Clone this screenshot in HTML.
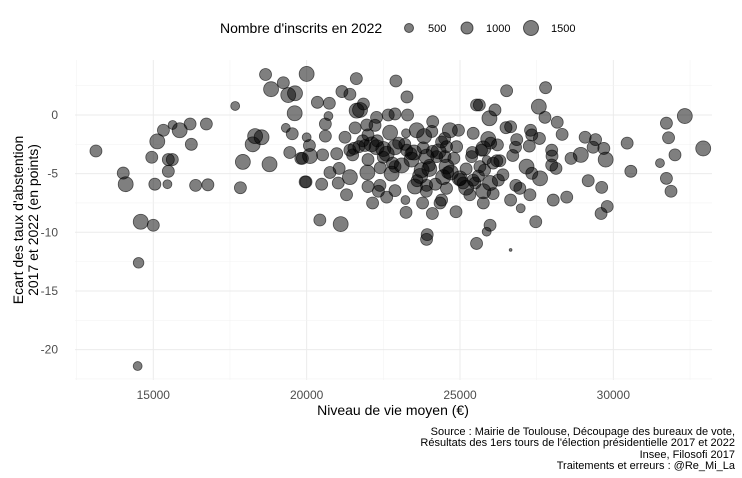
<!DOCTYPE html>
<html><head><meta charset="utf-8"><style>
body{margin:0;background:#fff;font-family:"Liberation Sans",sans-serif}
svg{display:block}
</style></head><body>
<svg id="chart" width="742" height="478" viewBox="0 0 742 478" xmlns="http://www.w3.org/2000/svg" font-family="Liberation Sans, sans-serif">
<g id="grid"></g>
<g id="pts"></g>
<g id="axes"></g>
<g>
<text x="220" y="33" font-size="14" fill="#000">Nombre d'inscrits en 2022</text>
<circle cx="409" cy="28" r="4.5" fill="rgba(0,0,0,0.5)" stroke="rgba(0,0,0,0.6)"/>
<text x="428" y="32" font-size="11">500</text>
<circle cx="467" cy="28" r="6" fill="rgba(0,0,0,0.5)" stroke="rgba(0,0,0,0.6)"/>
<text x="486" y="32" font-size="11">1000</text>
<circle cx="531" cy="28" r="7.5" fill="rgba(0,0,0,0.5)" stroke="rgba(0,0,0,0.6)"/>
<text x="551" y="32" font-size="11">1500</text>
</g>
<text x="393" y="415" font-size="14" text-anchor="middle">Niveau de vie moyen (€)</text>
<text transform="translate(23,220) rotate(-90)" font-size="14" text-anchor="middle"><tspan x="0" dy="0">Ecart des taux d'abstention</tspan><tspan x="0" dy="15">2017 et 2022 (en points)</tspan></text>
<g font-size="11" text-anchor="end">
<text x="735" y="435">Source : Mairie de Toulouse, Découpage des bureaux de vote,</text>
<text x="735" y="446">Résultats des 1ers tours de l'élection présidentielle 2017 et 2022</text>
<text x="735" y="458">Insee, Filosofi 2017</text>
<text x="735" y="469">Traitements et erreurs : @Re_Mi_La</text>
</g>
</svg>
<script>
const income=[13130,14020,14100,14590,15000,14520,14490,14950,15130,15330,15630,15860,16200,16730,16240,15490,15620,15490,15050,15460,16380,16780,17670,17840,17920,18790,18240,18320,18530,18660,18840,19240,19400,19620,19610,19320,19530,19450,19810,19950,
20000,20350,20740,20710,20610,21150,21410,21620,22910,23270,21740,21850,21630,22280,22660,22880,23290,20000,20090,20610,19860,20110,20520,20980,21250,21580,21540,21960,22230,21830,22120,22280,22610,22720,22880,22000,21410,20760,21060,21030,21410,21980,22000,22390,22340,22610,22880,22770,22880,19980,20490,21300,22150,23220,23240,23780,24100,20430,21110,23930,23910,25540,
23240,23590,23830,24110,24080,23260,23420,23750,23910,24240,23530,23910,24400,24350,24670,24950,24560,24510,24560,24450,24890,24990,24560,24870,25320,25430,25380,25490,25540,
26520,27790,25630,26140,25960,27570,27770,28170,28330,26500,26650,25920,25760,26220,26850,27300,27340,27590,27260,26810,26720,27990,28000,27990,28130,28620,28940,29080,29420,29340,29690,29750,30450,30570,31730,32330,31800,32930,32010,31520,31730,31880,29180,29620,29800,29600,28480,28040,27470,26980,26650,26950,27280,27610,27340,27170,26820,26080,25650,25870,25980,26250,25760,26080,25760,25980,25870,26650,25430,
23500,24000,24300,23700,22500,21900,24700,25200,26200,23100,
22300,22500,22800,23000,23400,23600,23800,24000,24200,24400,24600,24800,25000,25200,25400,25600,25800,26000,26300,22000,21700,22400,23200,24100,25100,25700,26400,23900,24500,21500];
const gap=[-3.07,-4.95,-5.9,-9.1,-9.4,-12.6,-21.4,-3.6,-2.25,-1.3,-0.85,-1.3,-0.77,-0.77,-2.5,-3.8,-3.8,-4.8,-5.9,-5.9,-6.0,-5.95,0.77,-6.2,-4.0,-4.2,-2.5,-1.8,-1.9,3.45,2.2,2.75,1.7,1.85,0.15,-1.1,-1.6,-3.2,-3.7,-5.7,
3.5,1.08,1.0,-0.09,-0.77,2.0,1.77,3.1,2.9,1.54,0.43,0.94,0.37,-0.2,0,0.09,0,-1.9,-2.6,-1.8,-3.7,-3.5,-3.4,-3.3,-1.9,-1.1,-2.85,-0.85,-0.88,-2.2,-2.5,-2.75,-3.3,-1.5,-2.75,-3.8,-3.0,-4.9,-4.55,-5.8,-5.3,-4.9,-6.1,-6.0,-6.5,-7.0,-6.45,-5.0,-4.4,-5.7,-5.9,-6.8,-7.5,-7.25,-8.3,-7.5,-8.4,-8.95,-9.3,-10.2,-10.6,-10.95,
-1.56,-1.3,-1.8,-0.57,-1.4,-3.0,-3.8,-4.7,-3.55,-3.55,-6.1,-6.0,-7.25,-7.5,-1.3,-1.3,-2.7,-3.55,-4.4,-5.3,-2.7,-5.4,-6.25,-8.25,-6.8,-1.56,-3.55,-5.8,0.85,
2.07,2.33,0.85,0.43,-0.28,0.71,-0.2,-0.62,-1.65,-1.08,-1.0,-2.05,-2.85,-2.55,-2.1,-1.3,-1.7,-2.0,-2.65,-2.75,-3.45,-3.0,-3.5,-4.27,-4.55,-3.7,-3.4,-1.9,-2.1,-2.75,-2.85,-3.8,-2.4,-4.8,-0.7,-0.09,-1.94,-2.85,-3.4,-4.1,-5.4,-6.5,-5.6,-6.17,-7.8,-8.4,-7.0,-7.25,-9.1,-7.95,-7.25,-6.25,-6.8,-5.4,-4.97,-4.4,-6.0,-4.1,-4.4,-3.84,-5.8,-5.55,-6.5,-6.7,-7.5,-9.4,-9.95,-11.5,-5.55,
-3.2,-4.6,-3.1,-5.2,-2.9,-2.6,-4.9,-6.2,-3.9,-4.3,
-2.2,-3.6,-4.1,-2.4,-3.3,-5.6,-2.8,-4.3,-5.9,-2.3,-4.9,-3.7,-5.5,-4.6,-3.2,-5.2,-4.7,-2.4,-3.9,-1.7,-2.7,-4.5,-2.5,-3.1,-5.8,-3.0,-5.1,-6.5,-2.0,-3.4];
const sizes=[900,900,1400,1400,900,700,500,900,1400,900,500,1400,900,900,900,900,900,900,900,500,900,900,500,900,1400,1400,1400,1400,1400,900,1400,900,1400,1400,1400,500,900,900,900,900,
1400,900,900,500,900,900,900,900,900,900,1400,900,1400,900,900,900,900,500,900,900,900,1400,900,900,900,900,900,900,900,900,1400,1400,1400,1400,1400,900,900,900,900,900,1400,1400,900,900,900,900,900,1400,900,900,900,900,900,500,900,900,900,900,1400,900,900,900,
500,1400,1400,900,900,900,1400,1400,1400,900,1400,900,900,900,1400,900,900,900,1400,1400,900,1400,900,900,900,900,900,900,900,
900,900,900,900,1400,1400,900,900,900,900,900,1400,1400,900,900,900,900,900,900,900,900,900,900,900,900,900,1400,900,900,900,900,1400,900,900,900,1400,900,1400,900,500,900,900,900,900,900,900,900,900,900,500,900,900,900,1400,900,1400,900,900,900,500,1400,900,1400,900,900,900,500,50,900,
1400,1400,1400,1400,1400,900,1400,1400,900,1400,
900,900,900,900,900,900,900,900,900,900,900,900,900,900,900,900,900,900,900,900,900,900,900,900,900,900,900,900,900,900];
const xTicks=[15000,20000,25000,30000];
const yTicks=[0,-5,-10,-15,-20];
const X0=75,X1=712,Y0=60,Y1=380;
const xs=v=>153.3+(v-15000)*0.03067;
const ys=v=>115-v*11.73;
const NS="http://www.w3.org/2000/svg";
function mk(t,a,p){const e=document.createElementNS(NS,t);for(const k in a)e.setAttribute(k,a[k]);p.appendChild(e);return e;}
const grid=document.getElementById('grid'),axes=document.getElementById('axes'),pts=document.getElementById('pts');
for(let v=12500;v<=32500;v+=2500){
  const major=v%5000===0;
  const l=mk('line',{x1:xs(v),x2:xs(v),y1:Y0,y2:Y1,stroke:major?'#ebebeb':'#f3f3f3','stroke-width':major?1:0.6},grid);
  
  
}
for(let v=2.5;v>=-22.5;v-=2.5){
  const major=v%5===0;
  const l=mk('line',{x1:X0,x2:X1,y1:ys(v),y2:ys(v),stroke:major?'#ebebeb':'#f3f3f3','stroke-width':major?1:0.6},grid);
  
  
}
xTicks.forEach(v=>{
  const t=mk('text',{x:xs(v),y:399,'font-size':12,fill:'#4d4d4d','text-anchor':'middle'},axes);
  t.textContent=v;
  
  
});
yTicks.forEach(v=>{
  const t=mk('text',{x:58,y:ys(v)+4,'font-size':12,fill:'#4d4d4d','text-anchor':'end'},axes);
  t.textContent=v;
  
  
});
income.forEach((v,i)=>{
  const c=mk('circle',{cx:xs(v),cy:ys(gap[i]),r:0.2*Math.sqrt(sizes[i]),fill:'rgba(0,0,0,0.5)',stroke:'rgba(0,0,0,0.6)','stroke-width':0.8},pts);
  
  
});
</script>
</body></html>
